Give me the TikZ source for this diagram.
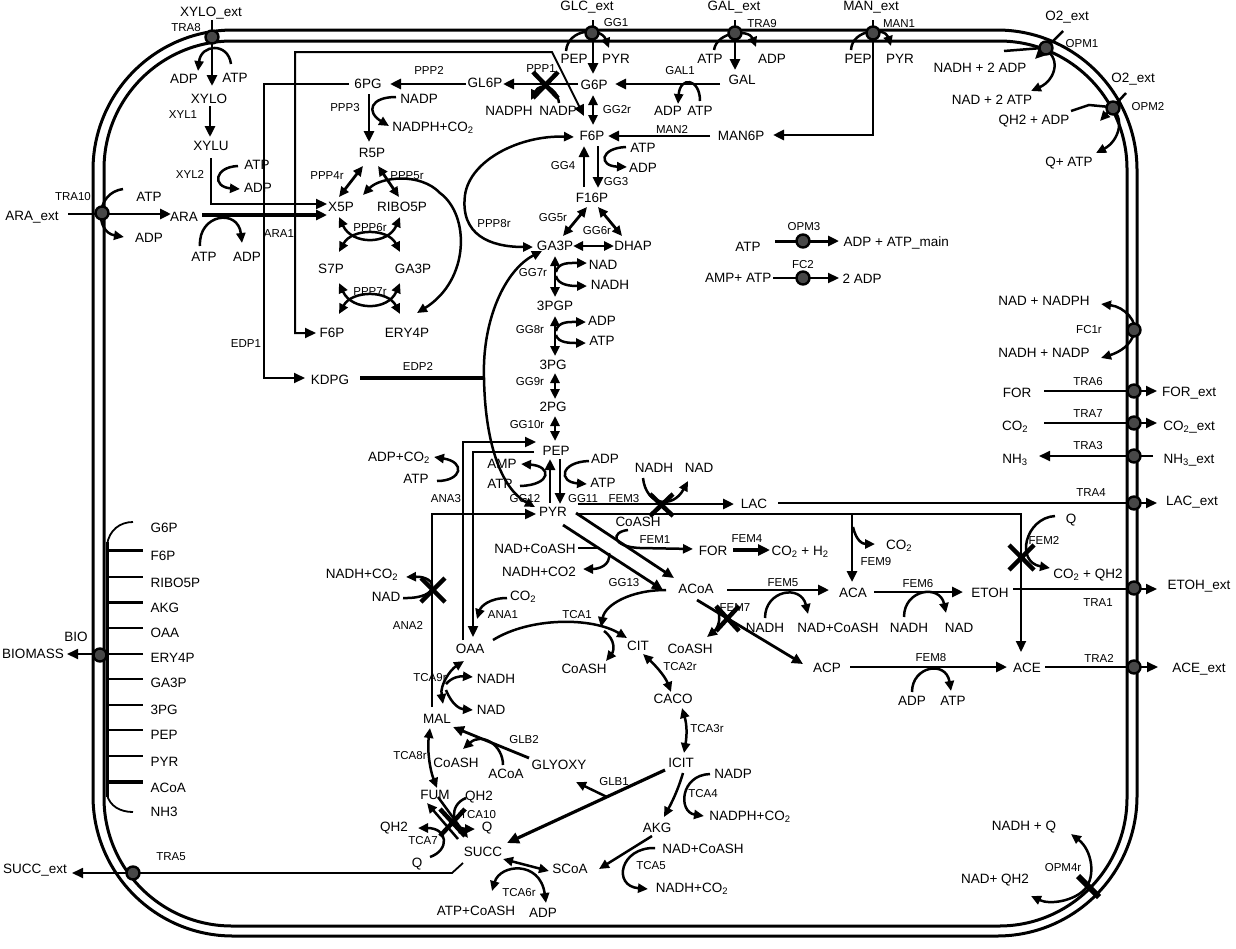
\documentclass[tikz,border=0pt]{standalone}
\usepackage{fontspec}
\setmainfont{Liberation Sans}
\usetikzlibrary{arrows.meta}
\begin{document}
\begin{tikzpicture}[x=1pt,y=-1pt,
 met/.style={font=\fontsize{13.5}{15}\selectfont, inner sep=0.5pt},
 lab/.style={font=\fontsize{11.5}{13}\selectfont, inner sep=0.5pt},
 rx/.style={line width=2.8pt, -{Triangle[length=11pt,width=10pt]}},
 rxb/.style={line width=2.8pt, {Triangle[length=10pt,width=9pt]}-{Triangle[length=10pt,width=9pt]}},
 cof/.style={line width=2.5pt, -{Triangle[length=10pt,width=9pt]}},
 cofb/.style={line width=2.5pt, {Triangle[length=10pt,width=9pt]}-{Triangle[length=10pt,width=9pt]}},
 thinrx/.style={line width=1.8pt, -{Triangle[length=11pt,width=10pt]}},
 ln/.style={line width=2pt},
 mem/.style={line width=3pt},
 tdot/.style={circle, fill=black!72, draw=black, line width=2.4pt, minimum size=13pt, inner sep=0pt},
 ko/.style={line width=4.5pt},
]
\fill[white] (0,0) rectangle (1236,948);
\useasboundingbox (0,0) rectangle (1236,948);

% ---------------- membrane
\draw[mem, rounded corners=140pt] (93,30) rectangle (1137,936);
\draw[mem, rounded corners=128pt] (104,41) rectangle (1127,926);
\draw[line width=3pt] (107,542) -- (107,797);

% ---------------- nodes: top left
\node[met] (XYLOext) at (211,13) {XYLO\_ext};
\node[lab] (TRA8) at (186,28) {TRA8};
\node[met] (adpA) at (184,79) {ADP};
\node[met] (atpA) at (235,78) {ATP};
\node[met] (XYLO) at (209,99) {XYLO};
\node[lab] (XYL1) at (183,115) {XYL1};
\node[met] (XYLU) at (211,146) {XYLU};
\node[lab] (XYL2) at (190,174) {XYL2};
\node[met] (atpB) at (257,165) {ATP};
\node[met] (adpB) at (258,188) {ADP};
\node[lab] (TRA10) at (73,197) {TRA10};
\node[met] (ARAext) at (32,217) {ARA\_ext};
\node[met] (atpC) at (149,197) {ATP};
\node[met] (adpC) at (149,238) {ADP};
\node[met] (ARA) at (184,217) {ARA};
\node[met] (atpD) at (204,257) {ATP};
\node[met] (adpD) at (247,257) {ADP};
\node[lab] (ARA1) at (279,234) {ARA1};
\node[lab] (EDP1) at (246,344) {EDP1};

% ---------------- PPP
\node[met] (SixPG) at (368,84) {6PG};
\node[lab] (PPP2) at (429,70) {PPP2};
\node[met] (GL6P) at (485,83) {GL6P};
\node[lab] (PPP1) at (541,69) {PPP1};
\node[met] (nadphA) at (509,111) {NADPH};
\node[met] (nadpA) at (558,111) {NADP};
\node[met] (G6P) at (594,85) {G6P};
\node[lab] (GG2r) at (617,110) {GG2r};
\node[lab] (PPP3) at (345,108) {PPP3};
\node[met] (nadpB) at (419,99) {NADP};
\node[met] (nadphB) at (433,128) {NADPH+CO\textsubscript{2}};
\node[met] (R5P) at (372,153) {R5P};
\node[met] (F6P) at (592,136) {F6P};
\node[lab] (GG4) at (563,166) {GG4};
\node[lab] (PPP4r) at (327,176) {PPP4r};
\node[lab] (PPP5r) at (407,176) {PPP5r};
\node[met] (X5P) at (341,207) {X5P};
\node[met] (RIBO5P) at (402,207) {RIBO5P};
\node[met] (F16P) at (592,198) {F16P};
\node[lab] (PPP8r) at (494,224) {PPP8r};
\node[lab] (GG5r) at (553,218) {GG5r};
\node[lab] (GG6r) at (597,231) {GG6r};
\node[met] (GA3P) at (555,246) {GA3P};
\node[met] (DHAP) at (633,246) {DHAP};
\node[lab] (PPP6r) at (370,228) {PPP6r};
\node[met] (S7P) at (331,269) {S7P};
\node[met] (GA3Pb) at (413,269) {GA3P};
\node[lab] (GG7r) at (533,273) {GG7r};
\node[met] (nadA) at (603,265) {NAD};
\node[met] (nadhA) at (610,285) {NADH};
\node[lab] (PPP7r) at (370,292) {PPP7r};
\node[met] (PGP) at (555,306) {3PGP};
\node[met] (F6Pb) at (332,333) {F6P};
\node[met] (ERY4P) at (407,333) {ERY4P};
\node[met] (KDPG) at (330,380) {KDPG};

% ---------------- sugar uptake
\node[met] (GLCext) at (587,7) {GLC\_ext};
\node[lab] (GG1) at (616,23) {GG1};
\node[met] (pepA) at (574,59) {PEP};
\node[met] (pyrA) at (616,59) {PYR};
\node[met] (GALext) at (734,7) {GAL\_ext};
\node[lab] (TRA9) at (762,24) {TRA9};
\node[met] (atpE) at (710,59) {ATP};
\node[met] (adpE) at (772,59) {ADP};
\node[met] (GAL) at (742,80) {GAL};
\node[lab] (GAL1) at (680,71) {GAL1};
\node[met] (adpF) at (668,111) {ADP};
\node[met] (atpF) at (700,111) {ATP};
\node[met] (MANext) at (871,7) {MAN\_ext};
\node[lab] (MAN1) at (899,24) {MAN1};
\node[met] (pepB) at (858,59) {PEP};
\node[met] (pyrB) at (900,59) {PYR};
\node[lab] (MAN2) at (672,129) {MAN2};
\node[met] (MAN6P) at (741,136) {MAN6P};
\node[met] (atpG) at (643,148) {ATP};
\node[met] (adpG) at (643,168) {ADP};
\node[lab] (GG3) at (616,182) {GG3};

% ---------------- energy
\node[met] (atpH) at (748,247) {ATP};
\node[lab] (OPM3) at (804,227) {OPM3};
\node[met, anchor=west] (adpatp) at (843,243) {ADP + ATP\_main};
\node[lab] (FC2) at (803,265) {FC2};
\node[met, anchor=east] (ampatp) at (772,278) {AMP+ ATP};
\node[met, anchor=west] (twoadp) at (842,279) {2 ADP};

% ---------------- right side
\node[met] (O2a) at (1067,17) {O2\_ext};
\node[lab] (OPM1) at (1082,44) {OPM1};
\node[met] (nadh2adp) at (980,68) {NADH + 2 ADP};
\node[met] (nad2atp) at (992,100) {NAD + 2 ATP};
\node[met] (O2b) at (1133,79) {O2\_ext};
\node[lab] (OPM2) at (1148,107) {OPM2};
\node[met] (qh2adp) at (1034,121) {QH2 + ADP};
\node[met] (qatp) at (1069,163) {Q+ ATP};
\node[met] (nadnadph) at (1044,301) {NAD + NADPH};
\node[lab] (FC1r) at (1089,330) {FC1r};
\node[met] (nadhnadp) at (1044,353) {NADH + NADP};
\node[met] (FORi) at (1017,393) {FOR};
\node[lab] (TRA6) at (1088,382) {TRA6};
\node[met] (FORext) at (1189,393) {FOR\_ext};
\node[met] (CO2i) at (1015,427) {CO\textsubscript{2}};
\node[lab] (TRA7) at (1088,414) {TRA7};
\node[met] (CO2ext) at (1189,427) {CO\textsubscript{2}\_ext};
\node[met] (NH3i) at (1015,460) {NH\textsubscript{3}};
\node[lab] (TRA3) at (1088,446) {TRA3};
\node[met] (NH3ext) at (1189,460) {NH\textsubscript{3}\_ext};
\node[lab] (TRA4) at (1091,493) {TRA4};
\node[met] (LACext) at (1192,502) {LAC\_ext};
\node[met] (qA) at (1071,520) {Q};
\node[lab] (FEM2) at (1044,540) {FEM2};
\node[met] (co2qh2) at (1088,575) {CO\textsubscript{2} + QH2};
\node[met] (ETOHext) at (1199,586) {ETOH\_ext};
\node[met] (ETOH) at (990,593) {ETOH};
\node[lab] (TRA1) at (1098,603) {TRA1};
\node[lab] (TRA2) at (1099,658) {TRA2};
\node[met] (ACE) at (1027,668) {ACE};
\node[met] (ACEext) at (1199,669) {ACE\_ext};
\node[met] (nadhq) at (1024,827) {NADH + Q};
\node[lab] (OPM4r) at (1063,868) {OPM4r};
\node[met] (nadqh2) at (995,880) {NAD+ QH2};

% ---------------- lower glycolysis
\node[lab] (GG8r) at (530,330) {GG8r};
\node[met] (adpI) at (602,321) {ADP};
\node[met] (atpI) at (602,341) {ATP};
\node[lab] (EDP2) at (418,366) {EDP2};
\node[met] (TPG) at (553,365) {3PG};
\node[lab] (GG9r) at (530,382) {GG9r};
\node[met] (TwoPG) at (553,407) {2PG};
\node[lab] (GG10r) at (527,425) {GG10r};
\node[met] (PEP) at (556,451) {PEP};
\node[met] (adpco2) at (399,458) {ADP+CO\textsubscript{2}};
\node[met] (atpJ) at (416,479) {ATP};
\node[met] (amp) at (502,464) {AMP};
\node[met] (atpK) at (500,484) {ATP};
\node[met] (adpL) at (605,459) {ADP};
\node[met] (atpL) at (603,483) {ATP};
\node[lab] (ANA3) at (446,499) {ANA3};
\node[lab] (GG12) at (525,499) {GG12};
\node[lab] (GG11) at (583,499) {GG11};
\node[met] (PYR) at (553,512) {PYR};
\node[met] (nadcoashA) at (535,549) {NAD+CoASH};
\node[met] (nadhco2A) at (539,572) {NADH+CO2};
\node[met] (nadhco2B) at (362,575) {NADH+CO\textsubscript{2}};
\node[met] (nadB) at (386,597) {NAD};
\node[met] (co2A) at (523,597) {CO\textsubscript{2}};
\node[lab] (ANA1) at (503,615) {ANA1};
\node[lab] (TCA1) at (577,615) {TCA1};
\node[lab] (ANA2) at (408,625) {ANA2};

% ---------------- fermentation
\node[met] (nadhC) at (654,468) {NADH};
\node[met] (nadC) at (699,468) {NAD};
\node[lab] (FEM3) at (624,499) {FEM3};
\node[met] (LAC) at (754,504) {LAC};
\node[met] (coashA) at (638,522) {CoASH};
\node[lab] (FEM1) at (655,540) {FEM1};
\node[met] (FOR) at (713,551) {FOR};
\node[lab] (FEM4) at (747,539) {FEM4};
\node[met, anchor=west] (co2h2) at (771,552) {CO\textsubscript{2} + H\textsubscript{2}};
\node[met] (co2B) at (899,546) {CO\textsubscript{2}};
\node[lab] (FEM9) at (876,562) {FEM9};
\node[lab] (GG13) at (624,583) {GG13};
\node[met] (ACoA) at (696,589) {ACoA};
\node[lab] (FEM5) at (783,583) {FEM5};
\node[met] (ACA) at (853,593) {ACA};
\node[lab] (FEM6) at (918,584) {FEM6};
\node[lab] (FEM7) at (735,608) {FEM7};
\node[met] (nadhD) at (765,628) {NADH};
\node[met] (nadcoashB) at (838,628) {NAD+CoASH};
\node[met] (nadhE) at (909,628) {NADH};
\node[met] (nadE) at (959,628) {NAD};
\node[met] (ACP) at (827,668) {ACP};
\node[lab] (FEM8) at (931,658) {FEM8};
\node[met] (adpM) at (912,701) {ADP};
\node[met] (atpM) at (953,701) {ATP};

% ---------------- TCA
\node[met] (CIT) at (638,646) {CIT};
\node[met] (coashB) at (690,649) {CoASH};
\node[met] (coashC) at (584,669) {CoASH};
\node[lab] (TCA2r) at (680,667) {TCA2r};
\node[met] (CACO) at (673,699) {CACO};
\node[lab] (TCA3r) at (707,729) {TCA3r};
\node[met] (ICIT) at (681,763) {ICIT};
\node[met] (nadpC) at (733,774) {NADP};
\node[lab] (TCA4) at (703,794) {TCA4};
\node[met] (nadphco2) at (750,817) {NADPH+CO\textsubscript{2}};
\node[met] (AKG) at (657,828) {AKG};
\node[met] (nadcoashC) at (703,849) {NAD+CoASH};
\node[lab] (TCA5) at (651,866) {TCA5};
\node[met] (nadhco2C) at (692,889) {NADH+CO\textsubscript{2}};
\node[met] (OAA) at (470,649) {OAA};
\node[lab] (TCA9r) at (430,678) {TCA9r};
\node[met] (nadhF) at (496,679) {NADH};
\node[met] (nadF) at (491,710) {NAD};
\node[met] (MAL) at (437,719) {MAL};
\node[lab] (GLB2) at (524,740) {GLB2};
\node[lab] (TCA8r) at (410,756) {TCA8r};
\node[met] (coashD) at (456,763) {CoASH};
\node[met] (acoaB) at (506,774) {ACoA};
\node[met] (GLYOXY) at (559,765) {GLYOXY};
\node[lab] (GLB1) at (614,782) {GLB1};
\node[met] (FUM) at (435,795) {FUM};
\node[met] (qh2A) at (479,797) {QH2};
\node[lab] (TCA10) at (478,815) {TCA10};
\node[met] (qh2B) at (394,828) {QH2};
\node[met] (qB) at (487,828) {Q};
\node[lab] (TCA7) at (423,841) {TCA7};
\node[met] (SUCC) at (483,852) {SUCC};
\node[met] (qC) at (417,864) {Q};
\node[met] (SCoA) at (570,869) {SCoA};
\node[lab] (TCA6r) at (519,893) {TCA6r};
\node[met] (atpcoash) at (476,911) {ATP+CoASH};
\node[met] (adpN) at (543,913) {ADP};
\node[lab] (TRA5) at (171,857) {TRA5};
\node[met] (SUCCext) at (35,870) {SUCC\_ext};

% ---------------- biomass
\node[met] (BIOl) at (76,637) {BIO};
\node[met] (BIOMASS) at (33,654) {BIOMASS};
\foreach \n/\t/\yy in {bG6P/G6P/528, bF6P/F6P/556, bR5P/RIBO5P/583, bAKG/AKG/608, bOAA/OAA/633, bE4P/ERY4P/658, bGA3P/GA3P/683, bPG/3PG/710, bPEP/PEP/735, bPYR/PYR/762, bACOA/ACoA/788, bNH3/NH3/812}
  \node[met, anchor=west] (\n) at (150,\yy) {\t};
\draw[line width=1.8pt] (107,545) .. controls (109,530) and (120,522) .. (133,522);
\draw[line width=3pt] (107,550) -- (143,550);
\draw[line width=2pt] (107,577) -- (143,577);
\draw[line width=3pt] (107,602) -- (143,602);
\draw[line width=2pt] (107,628) -- (143,628);
\draw[line width=2pt] (107,679) -- (143,679);
\draw[line width=1.6pt] (107,705) -- (143,705);
\draw[line width=2pt] (107,730) -- (143,730);
\draw[line width=2pt] (107,756) -- (143,756);
\draw[line width=3.5pt] (107,782) -- (143,782);
\draw[line width=1.8pt] (107,795) .. controls (110,806) and (120,812) .. (133,812);
\draw[thinrx] (bE4P.west) ++(-7,-4) -- (67,654);

% ---------------- connectors: top left
\draw[rx] (212,20) -- (212,86);
\draw[cof] (231,64) .. controls (228,42) and (201,44) .. (198,71);
\draw[rx] (210,106) -- (210,137);
\draw[line width=2.3pt, -{Triangle[length=11pt,width=10pt]}] (211,158) -- (211,204) -- (327,204);
\draw[cof] (238,166) .. controls (214,167) and (212,187) .. (240,189);
\draw[rx] (68,214) -- (171,214);
\draw[cof] (123,189) .. controls (95,193) and (95,232) .. (124,237);
\draw[line width=3.2pt, -{Triangle[length=11pt,width=10pt]}] (202,215) -- (327,215);
\draw[cof] (200,246) .. controls (198,214) and (238,208) .. (242,243);
\draw[line width=2pt, -{Triangle[length=11pt,width=10pt]}] (349,84) -- (264,84) -- (264,378) -- (305,378);
\draw[line width=2pt, {Triangle[length=11pt,width=10pt]}-{Triangle[length=11pt,width=10pt]}] (584,116) -- (552,52) -- (295,52) -- (295,333) -- (316,333);

% ---------------- PPP connectors
\draw[rx] (578,84) -- (503,84);
\draw[cof] (559,103) .. controls (557,86) and (540,82) .. (531,100);
\draw[ko] (533,72) -- (558,98) (558,72) -- (533,98);
\draw[rx] (466,84) -- (390,84);
\draw[rx] (369,94) -- (369,142);
\draw[cof] (396,97) .. controls (370,97) and (366,112) .. (389,126);
\draw[rxb] (363,166) -- (339,197);
\draw[rxb] (378,166) -- (399,197);
\draw[cofb] (363,195) .. controls (380,177) and (420,172) .. (440,193) .. controls (470,215) and (470,280) .. (417,313);
\draw[cofb] (574,137) .. controls (520,135) and (470,160) .. (465,195) .. controls (460,235) and (490,247) .. (533,247);
\draw[cofb] (339,217) .. controls (352,245) and (388,245) .. (400,217);
\draw[cofb] (339,252) .. controls (352,228) and (388,228) .. (400,252);
\draw[cofb] (339,283) .. controls (352,311) and (388,311) .. (400,283);
\draw[cofb] (339,314) .. controls (352,290) and (388,290) .. (400,314);

% ---------------- upper glycolysis
\draw[rx] (593,20) -- (593,74);
\draw[cof] (566,51) .. controls (568,28) and (601,27) .. (609,48);
\draw[rxb] (593,95) -- (593,125);
\draw[rx] (735,20) -- (735,70);
\draw[cof] (714,50) .. controls (717,31) and (749,29) .. (756,47);
\draw[rx] (720,84) -- (615,84);
\draw[cof] (700,101) .. controls (700,78) and (680,76) .. (678,104);
\draw[rx] (873,20) -- (873,135) -- (773,135);
\draw[cof] (851,50) .. controls (852,29) and (885,27) .. (891,46);
\draw[rx] (710,136) -- (608,136);
\draw[rx] (584,187) -- (584,146);
\draw[rx] (598,146) -- (598,188);
\draw[cof] (626,147) .. controls (600,148) and (598,166) .. (627,167);
\draw[rxb] (587,207) -- (563,236);
\draw[rxb] (598,207) -- (622,236);
\draw[rxb] (573,246) -- (614,246);
\draw[rxb] (555,256) -- (555,297);
\draw[cof] (556,272) .. controls (558,262) and (570,263) .. (587,263);
\draw[cof] (556,276) .. controls (558,285) and (570,286) .. (587,286);
\draw[rxb] (555,316) -- (555,356);
\draw[cof] (556,331) .. controls (558,321) and (570,322) .. (586,322);
\draw[cof] (556,335) .. controls (558,343) and (570,343) .. (586,343);
\draw[rxb] (555,373) -- (555,399);
\draw[rxb] (555,416) -- (555,441);
\draw[rx] (550,503) -- (550,459);
\draw[rx] (560,459) -- (560,504);
\draw[cof] (520,486) .. controls (552,485) and (552,466) .. (521,464);
\draw[cof] (589,461) .. controls (560,462) and (558,482) .. (587,484);

% ---------------- anaplerotic
\draw[line width=2.3pt, -{Triangle[length=11pt,width=10pt]}] (463,640) -- (463,442) -- (536,442);
\draw[cof] (437,481) .. controls (462,481) and (466,462) .. (434,457);
\draw[line width=2.3pt, -{Triangle[length=11pt,width=10pt]}] (534,452) -- (473,452) -- (473,637);
\draw[cof] (507,598) .. controls (490,598) and (481,606) .. (477,619);
\draw[line width=2.3pt, -{Triangle[length=11pt,width=10pt]}] (432,707) -- (432,514) -- (536,514);
\draw[cof] (403,598) .. controls (442,599) and (438,576) .. (406,577);
\draw[ko] (421,578) -- (445,602) (445,578) -- (421,602);

% ---------------- Entner-Doudoroff
\draw[line width=3.2pt] (360,378) -- (484,378);
\draw[cofb] (542,251) .. controls (505,270) and (482,320) .. (484,378) .. controls (485,440) and (500,488) .. (535,507);

% ---------------- fermentation
\draw[rx] (578,504) -- (734,504);
\draw[cof] (643,478) .. controls (646,506) and (673,509) .. (688,481);
\draw[ko] (650,494) -- (673,516) (673,494) -- (650,516);
\draw[line width=1.8pt, -{Triangle[length=11pt,width=10pt]}] (778,503) -- (1157,503);
\draw[line width=2pt, -{Triangle[length=11pt,width=10pt]}] (578,514) -- (1021,514) -- (1021,652);
\draw[rx] (852,514) -- (852,582);
\draw[cof] (853,527) .. controls (856,540) and (862,544) .. (875,544);
\draw[cof] (1055,516) .. controls (1025,518) and (1015,562) .. (1050,568);
\draw[ko] (1009,545) -- (1034,570) (1034,545) -- (1009,570);
\draw[rx] (576,513) -- (674,578);
\draw[rx] (563,525) -- (663,590);
\draw[cof] (628,530) .. controls (610,532) and (612,547) .. (640,548) -- (693,549);
\draw[line width=2.3pt] (578,548) -- (600,548);
\draw[cof] (609,553) .. controls (611,566) and (598,569) .. (583,569);
\draw[line width=4pt, -{Triangle[length=12pt,width=11pt]}] (733,550) -- (770,550);
\draw[rx] (727,590) -- (829,590);
\draw[cof] (765,618) .. controls (765,590) and (801,584) .. (808,614);
\draw[rx] (874,592) -- (963,592);
\draw[cof] (904,617) .. controls (904,589) and (940,584) .. (946,613);
\draw[line width=1.8pt, -{Triangle[length=11pt,width=10pt]}] (1013,589) -- (1157,589);
\draw[rx] (697,600) -- (803,664);
\draw[cof] (716,607) .. controls (723,618) and (717,629) .. (707,637);
\draw[ko] (716,606) -- (739,631) (739,606) -- (716,631);
\draw[rx] (850,667) -- (1007,667);
\draw[cof] (912,692) .. controls (912,666) and (946,660) .. (951,691);
\draw[line width=2pt, -{Triangle[length=11pt,width=10pt]}] (1045,667) -- (1158,667);

% ---------------- right membrane reactions
\draw[cofb] (1101,304) .. controls (1125,307) and (1138,322) .. (1134,333) .. controls (1131,345) and (1120,352) .. (1101,358);
\draw[line width=1.8pt, -{Triangle[length=11pt,width=10pt]}] (1044,391) -- (1157,391);
\draw[line width=1.8pt, -{Triangle[length=11pt,width=10pt]}] (1044,423) -- (1157,423);
\draw[line width=1.8pt, -{Triangle[length=11pt,width=10pt]}] (1153,456) -- (1039,456);
\draw[line width=3pt, -{Triangle[length=11pt,width=10pt]}] (775,241) -- (839,241);
\draw[line width=2.2pt, -{Triangle[length=11pt,width=10pt]}] (773,278) -- (839,278);
\draw[cof] (1063,31) -- (1035,59);
\draw[cof] (1004,51) -- (1042,48) .. controls (1062,56) and (1056,80) .. (1031,91);
\draw[cof] (1126,93) -- (1100,121);
\draw[cof] (1071,111) -- (1089,105) -- (1110,107) .. controls (1126,117) and (1119,141) .. (1096,153);
\draw[cofb] (1071,834) .. controls (1092,850) and (1096,876) .. (1085,889) .. controls (1074,901) and (1050,905) .. (1031,896);
\draw[line width=6pt] (1078,876) -- (1099,897);

% ---------------- TCA connectors
\draw[cof] (493,640) .. controls (530,617) and (592,617) .. (627,638);
\draw[cof] (666,590) .. controls (630,590) and (605,605) .. (601,627);
\draw[cof] (604,631) .. controls (616,640) and (614,651) .. (606,661);
\draw[cofb] (643,654) .. controls (655,665) and (665,676) .. (671,692);
\draw[cofb] (682,708) .. controls (687,725) and (687,735) .. (684,753);
\draw[cof] (683,773) .. controls (678,790) and (672,802) .. (664,817);
\draw[cof] (710,774) .. controls (680,775) and (678,812) .. (704,816);
\draw[cof] (652,836) -- (599,869);
\draw[cof] (655,848) .. controls (620,847) and (612,886) .. (648,889);
\draw[cofb] (549,871) -- (503,859);
\draw[cofb] (492,891) .. controls (500,864) and (540,860) .. (546,903);
\draw[line width=3.2pt, -{Triangle[length=12pt,width=11pt]}] (665,770) -- (507,843);
\draw[cof] (607,797) -- (576,782);
\draw[rx] (529,758) -- (453,727);
\draw[cof] (503,765) .. controls (503,745) and (482,732) .. (463,749);
\draw[cofb] (430,728) .. controls (427,750) and (430,770) .. (437,788);
\draw[cofb] (443,704) .. controls (440,685) and (450,670) .. (464,661);
\draw[cof] (446,684) .. controls (452,677) and (460,676) .. (473,677);
\draw[cof] (446,690) .. controls (452,705) and (460,709) .. (473,710);
\draw[cof] (438,797) -- (468,838);
\draw[cof] (458,839) -- (427,803);
\draw[cof] (466,798) .. controls (448,805) and (452,829) .. (475,829);
\draw[cof] (430,857) .. controls (450,850) and (448,828) .. (418,828);
\draw[ko] (440,809) -- (465,836) (465,809) -- (440,836);
\draw[line width=1.8pt, -{Triangle[length=11pt,width=10pt]}] (463,863) -- (452,873) -- (72,873);

% ---------------- transporter dots
\foreach \n/\p in {dTRA8/{(212,37)}, dGG1/{(592,33)}, dTRA9/{(735,33)}, dMAN1/{(873,33)}, dOPM1/{(1046,48)}, dOPM2/{(1113,108)}, dTRA10/{(102,213)}, dFC1/{(1134,330)}, dTRA6/{(1134,391)}, dTRA7/{(1134,423)}, dTRA3/{(1134,456)}, dTRA4/{(1134,503)}, dTRA1/{(1134,588)}, dTRA2/{(1134,667)}, dBIO/{(100,655)}, dTRA5/{(133,873)}, dOPM3/{(803,241)}, dFC2/{(803,278)}}
  \node[tdot] (\n) at \p {};
\end{tikzpicture}
\end{document}
